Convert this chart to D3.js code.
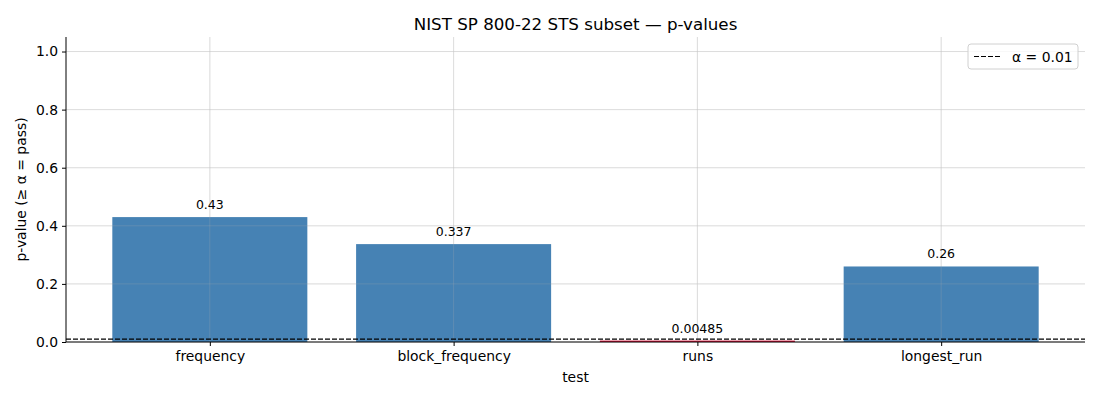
<!DOCTYPE html>
<html>
<head>
<meta charset="utf-8">
<script src="https://cdn.jsdelivr.net/npm/d3@7"></script>
<style>
  body { margin: 0; background: #fff; }
  text { font-family: "DejaVu Sans", sans-serif; }
</style>
</head>
<body>
<div id="chart"></div>
<script>
// data
var tests = ["frequency", "block_frequency", "runs", "longest_run"];
var pValues = [0.43, 0.337, 0.00485, 0.26];
var valueLabels = ["0.43", "0.337", "0.00485", "0.26"];
var alpha = 0.01;
var yTicks = [0.0, 0.2, 0.4, 0.6, 0.8, 1.0];

var W = 1100, H = 400;
var margin = {top: 37, right: 15, bottom: 58, left: 66};
var width = W - margin.left - margin.right,
    height = H - margin.top - margin.bottom;

var svg = d3.select("#chart").append("svg")
    .attr("width", W)
    .attr("height", H);

var g = svg.append("g")
    .attr("transform", `translate(${margin.left},${margin.top})`);

// matplotlib style: bars of width 0.8 at integer positions, 5% margins
var x = d3.scaleLinear().domain([-0.59, tests.length - 1 + 0.59]).range([0, width]);
var y = d3.scaleLinear().domain([0, 1.05]).range([height, 0]);
var barW = x(0.8) - x(0);

// grid under bars
g.append("g").selectAll("line")
  .data(yTicks).enter().append("line")
    .attr("x1", 0).attr("x2", width)
    .attr("y1", d => y(d)).attr("y2", d => y(d))
    .attr("stroke", "#e6e6e6").attr("stroke-width", 0.8);
g.append("g").selectAll("line")
  .data(tests).enter().append("line")
    .attr("x1", (d, i) => x(i)).attr("x2", (d, i) => x(i))
    .attr("y1", 0).attr("y2", height)
    .attr("stroke", "#e6e6e6").attr("stroke-width", 0.8);

// bars
g.append("g").selectAll("rect")
  .data(pValues).enter().append("rect")
    .attr("x", (d, i) => x(i) - barW / 2)
    .attr("width", barW)
    .attr("y", d => y(d))
    .attr("height", d => height - y(d))
    .attr("fill", d => d >= alpha ? "#4682b4" : "#dc143c");

// grid over bars, faint
g.append("g").selectAll("line")
  .data(tests).enter().append("line")
    .attr("x1", (d, i) => x(i)).attr("x2", (d, i) => x(i))
    .attr("y1", 0).attr("y2", height)
    .attr("stroke", "#b0b0b0").attr("stroke-opacity", 0.3).attr("stroke-width", 0.8);
g.append("g").selectAll("line")
  .data(yTicks.slice(1)).enter().append("line")
    .attr("x1", 0).attr("x2", width)
    .attr("y1", d => y(d)).attr("y2", d => y(d))
    .attr("stroke", "#b0b0b0").attr("stroke-opacity", 0.3).attr("stroke-width", 0.8);

// value labels
g.append("g").selectAll("text")
  .data(pValues).enter().append("text")
    .attr("x", (d, i) => x(i))
    .attr("y", d => y(d) - 8)
    .attr("text-anchor", "middle")
    .attr("font-size", 12.5)
    .attr("fill", "#000")
    .text((d, i) => valueLabels[i]);

// alpha threshold
g.append("line")
    .attr("x1", 0).attr("x2", width)
    .attr("y1", y(alpha)).attr("y2", y(alpha))
    .attr("stroke", "#000").attr("stroke-width", 1.1)
    .attr("stroke-dasharray", "5,2");

// axes
var yAxis = d3.axisLeft(y).tickValues(yTicks).tickFormat(d3.format(".1f")).tickSize(4).tickPadding(4);
var xAxis = d3.axisBottom(x).tickValues(d3.range(tests.length)).tickFormat(i => tests[i]).tickSize(4).tickPadding(5);

var ya = g.append("g").call(yAxis);
var xa = g.append("g").attr("transform", `translate(0,${height})`).call(xAxis);
[ya, xa].forEach(a => {
  a.selectAll("text").attr("font-size", 13.9).attr("fill", "#000").style("font-family", "DejaVu Sans");
  a.selectAll("line").attr("stroke", "#000");
});
ya.select(".domain").attr("d", `M0,0V${height}`).attr("stroke", "#000").attr("stroke-width", 1);
xa.select(".domain").attr("d", `M0,0H${width}`).attr("stroke", "#000").attr("stroke-width", 1);

// labels
svg.append("text")
    .attr("x", margin.left + width / 2).attr("y", 30)
    .attr("text-anchor", "middle")
    .attr("font-size", 16.7)
    .text("NIST SP 800-22 STS subset — p-values");

svg.append("text")
    .attr("x", margin.left + width / 2).attr("y", 382)
    .attr("text-anchor", "middle")
    .attr("font-size", 13.9)
    .text("test");

svg.append("text")
    .attr("transform", "rotate(-90)")
    .attr("x", -(margin.top + height / 2)).attr("y", 26)
    .attr("text-anchor", "middle")
    .attr("font-size", 13.9)
    .text("p-value (≥ α = pass)");

// legend
var lg = g.append("g").attr("transform", `translate(${width - 117},7)`);
lg.append("rect")
    .attr("width", 110).attr("height", 25).attr("rx", 3)
    .attr("fill", "#fff").attr("fill-opacity", 0.8)
    .attr("stroke", "#d0d0d0");
lg.append("line")
    .attr("x1", 6).attr("x2", 33).attr("y1", 12.5).attr("y2", 12.5)
    .attr("stroke", "#000").attr("stroke-width", 1.1).attr("stroke-dasharray", "5,2");
lg.append("text")
    .attr("x", 44).attr("y", 17.5)
    .attr("font-size", 13.9)
    .text("α = 0.01");
</script>
</body>
</html>
